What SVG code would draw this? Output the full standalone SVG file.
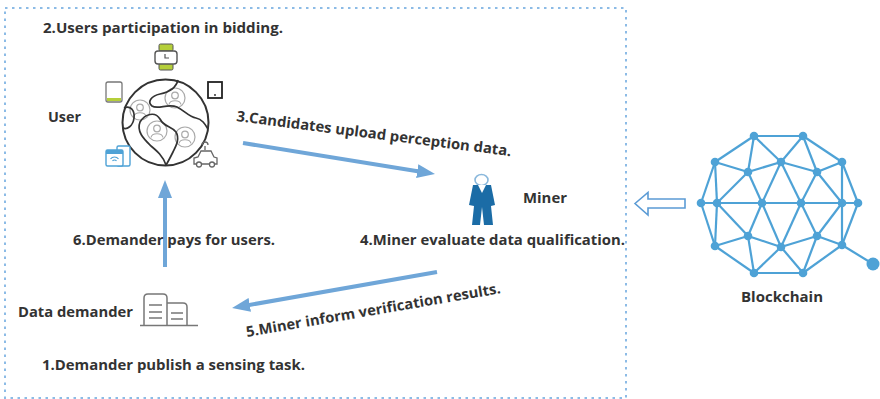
<svg xmlns="http://www.w3.org/2000/svg" width="880" height="399" viewBox="0 0 880 399">
  <style>
    .lbl { font-family: "Open Sans", "Liberation Sans", sans-serif; font-weight: 700; font-size: 14.5px; fill: #333; }
    .flow { stroke: #6fa6d8; stroke-width: 4; fill: none; }
    .net line { stroke: #4ea2d6; stroke-width: 2.2; }
    .net circle { fill: #4ea2d6; }
  </style>
  <defs>
    <marker id="head" viewBox="0 0 18 14" refX="2" refY="7" markerWidth="18" markerHeight="14" markerUnits="userSpaceOnUse" orient="auto">
      <path d="M0,0 L18,7 L0,14 Z" fill="#6fa6d8"/>
    </marker>
    <g id="person" fill="none" stroke="#aaa" stroke-width="1.2">
      <circle r="10"/>
      <circle cx="0" cy="-2.5" r="3.3"/>
      <path d="M-6,6.5 C-5,1.5 5,1.5 6,6.5"/>
    </g>
  </defs>

  <rect width="880" height="399" fill="#fff"/>

  <!-- platform boundary -->
  <rect x="5" y="8" width="621" height="390" fill="none" stroke="#8cbbe6" stroke-width="2" stroke-dasharray="2.5 4.5"/>

  <!-- user: globe with devices -->
  <g id="user">
    <circle cx="165.5" cy="122.5" r="43" fill="#fff" stroke="#333" stroke-width="2"/>
    <use href="#person" x="175" y="98"/>
    <use href="#person" x="140" y="110"/>
    <use href="#person" x="157" y="131"/>
    <use href="#person" x="185" y="137"/>
    <g fill="none" stroke="#333" stroke-width="1.7" stroke-linejoin="round">
      <path d="M178,80 C176,88 170,92 160,94 C151,96 147,102 152,106 C158,110 168,103 177,107 C185,111 189,117 196,118 C202,119 205,124 208,129"/>
      <path d="M140,122 C145,114 155,111 160,119 C164,127 171,126 176,132 C180,139 176,146 173,152 C170,158 168,162 166,165 C163,156 157,151 151,146 C145,140 136,132 140,122 Z"/>
      <path d="M124,108 C130,105 135,110 134,118 C133,126 127,130 123,128"/>
    </g>
    <!-- watch -->
    <rect x="159" y="44" width="14" height="7" rx="1.5" fill="#b5cf3a" stroke="#555" stroke-width="1"/>
    <rect x="159" y="63" width="14" height="7" rx="1.5" fill="#b5cf3a" stroke="#555" stroke-width="1"/>
    <rect x="155" y="51" width="22" height="13" rx="3" fill="#fff" stroke="#555" stroke-width="1.4"/>
    <path d="M165,54 L165,58 L169,58" fill="none" stroke="#555" stroke-width="1.2"/>
    <!-- tablet -->
    <rect x="106" y="82" width="16" height="20" rx="2" fill="#fff" stroke="#777" stroke-width="1.3"/>
    <rect x="107" y="98" width="14" height="3" fill="#b5cf3a"/>
    <!-- phone -->
    <rect x="208" y="82" width="14" height="16" fill="#fff" stroke="#222" stroke-width="1.8"/>
    <circle cx="215" cy="95" r="0.9" fill="#222"/>
    <!-- router -->
    <rect x="117" y="146" width="13" height="20" rx="1.5" fill="#fff" stroke="#4ea2d6" stroke-width="1.4"/>
    <rect x="106" y="150" width="17" height="16" rx="1.5" fill="#fff" stroke="#4ea2d6" stroke-width="1.4"/>
    <rect x="106" y="150" width="17" height="4" fill="#4ea2d6"/>
    <path d="M110.5,159 A5,5 0 0 1 118.5,159 M112.5,161 A2.5,2.5 0 0 1 116.5,161" fill="none" stroke="#4ea2d6" stroke-width="1.2"/>
    <!-- car -->
    <g fill="none" stroke="#666" stroke-width="1.3">
      <path d="M205,146 L205,150 M202,145 A3,3 0 0 1 208,145"/>
      <path d="M198,157 L201,151 L211,151 L214,157 L217,158 L217,164 L194,164 L194,158 Z"/>
      <circle cx="199" cy="164.5" r="2.5" fill="#fff"/>
      <circle cx="212" cy="164.5" r="2.5" fill="#fff"/>
    </g>
  </g>

  <!-- miner -->
  <g id="miner">
    <ellipse cx="481.5" cy="180" rx="6.5" ry="5.5" fill="#fff" stroke="#8ab8dc" stroke-width="1.6"/>
    <path d="M473,185 L491,185 L495,205 L491,206 L493,225 L484,225 L482,207 L480,225 L472,225 L474,206 L469,205 Z" fill="#1b6ca6"/>
    <path d="M478,185 L482,193 L486,185 Z" fill="#fff"/>
  </g>

  <!-- data demander -->
  <g id="demander" fill="none" stroke="#777" stroke-width="1.5">
    <path d="M144,325 L144,298 Q144,294 148,294 L163,294 Q167,294 167,298 L167,325"/>
    <path d="M167,303 L183,303 Q187,303 187,307 L187,325"/>
    <path d="M140,325.5 L198,325.5"/>
    <path d="M149,305 L162,305 M149,312 L162,312 M149,318 L162,318"/>
    <path d="M171,313 L183,313 M171,319 L183,319"/>
  </g>

  <!-- blockchain -->
  <g id="blockchain" class="net">
    <line x1="754" y1="136" x2="803" y2="136"/>
    <line x1="754" y1="136" x2="715" y2="162"/>
    <line x1="754" y1="136" x2="781" y2="162"/>
    <line x1="754" y1="136" x2="748" y2="172"/>
    <line x1="803" y1="136" x2="781" y2="162"/>
    <line x1="803" y1="136" x2="842" y2="162"/>
    <line x1="803" y1="136" x2="817" y2="172"/>
    <line x1="715" y1="162" x2="748" y2="172"/>
    <line x1="715" y1="162" x2="701" y2="203"/>
    <line x1="715" y1="162" x2="717" y2="203"/>
    <line x1="781" y1="162" x2="748" y2="172"/>
    <line x1="781" y1="162" x2="817" y2="172"/>
    <line x1="781" y1="162" x2="762" y2="203"/>
    <line x1="781" y1="162" x2="801" y2="203"/>
    <line x1="842" y1="162" x2="817" y2="172"/>
    <line x1="842" y1="162" x2="858" y2="203"/>
    <line x1="842" y1="162" x2="842" y2="203"/>
    <line x1="748" y1="172" x2="717" y2="203"/>
    <line x1="748" y1="172" x2="762" y2="203"/>
    <line x1="817" y1="172" x2="801" y2="203"/>
    <line x1="817" y1="172" x2="842" y2="203"/>
    <line x1="701" y1="203" x2="858" y2="203"/>
    <line x1="701" y1="203" x2="715" y2="246"/>
    <line x1="717" y1="203" x2="715" y2="246"/>
    <line x1="717" y1="203" x2="748" y2="236"/>
    <line x1="762" y1="203" x2="748" y2="236"/>
    <line x1="762" y1="203" x2="781" y2="247"/>
    <line x1="801" y1="203" x2="781" y2="247"/>
    <line x1="801" y1="203" x2="817" y2="236"/>
    <line x1="842" y1="203" x2="817" y2="236"/>
    <line x1="842" y1="203" x2="842" y2="245"/>
    <line x1="858" y1="203" x2="842" y2="245"/>
    <line x1="715" y1="246" x2="748" y2="236"/>
    <line x1="715" y1="246" x2="754" y2="273"/>
    <line x1="748" y1="236" x2="754" y2="273"/>
    <line x1="748" y1="236" x2="781" y2="247"/>
    <line x1="781" y1="247" x2="754" y2="273"/>
    <line x1="781" y1="247" x2="803" y2="273"/>
    <line x1="781" y1="247" x2="817" y2="236"/>
    <line x1="817" y1="236" x2="803" y2="273"/>
    <line x1="817" y1="236" x2="842" y2="245"/>
    <line x1="842" y1="245" x2="803" y2="273"/>
    <line x1="754" y1="273" x2="803" y2="273"/>
    <line x1="842" y1="245" x2="873" y2="264"/>
    <circle cx="754" cy="136" r="4.3"/>
    <circle cx="803" cy="136" r="4.3"/>
    <circle cx="715" cy="162" r="4.3"/>
    <circle cx="781" cy="162" r="4.3"/>
    <circle cx="842" cy="162" r="4.3"/>
    <circle cx="748" cy="172" r="4.3"/>
    <circle cx="817" cy="172" r="4.3"/>
    <circle cx="701" cy="203" r="4.3"/>
    <circle cx="717" cy="203" r="4.3"/>
    <circle cx="762" cy="203" r="4.3"/>
    <circle cx="801" cy="203" r="4.3"/>
    <circle cx="842" cy="203" r="4.3"/>
    <circle cx="858" cy="203" r="4.3"/>
    <circle cx="748" cy="236" r="4.3"/>
    <circle cx="817" cy="236" r="4.3"/>
    <circle cx="715" cy="246" r="4.3"/>
    <circle cx="781" cy="247" r="4.3"/>
    <circle cx="842" cy="245" r="4.3"/>
    <circle cx="754" cy="273" r="4.3"/>
    <circle cx="803" cy="273" r="4.3"/>
    <circle cx="873" cy="264" r="6.5"/>
  </g>

  <!-- connectors -->
  <g id="connectors">
    <line class="flow" x1="165" y1="267" x2="165" y2="196" marker-end="url(#head)"/>
    <line class="flow" x1="243" y1="143" x2="419.2" y2="171.5" marker-end="url(#head)"/>
    <line class="flow" x1="437" y1="272" x2="247.8" y2="305.2" marker-end="url(#head)"/>
    <path d="M635,203.5 L648,192.5 L648,199 L685,199 L685,208 L648,208 L648,215 Z" fill="#fff" stroke="#5b9bd5" stroke-width="1.6" stroke-linejoin="miter"/>
  </g>

  <!-- labels -->
  <g id="labels">
    <text class="lbl" x="43" y="33" textLength="240" lengthAdjust="spacingAndGlyphs">2.Users participation in bidding.</text>
    <text class="lbl" x="48" y="122" textLength="33" lengthAdjust="spacingAndGlyphs">User</text>
    <text class="lbl" transform="translate(236,121) rotate(7.3)" textLength="277" lengthAdjust="spacingAndGlyphs">3.Candidates upload perception data.</text>
    <text class="lbl" x="523" y="203" textLength="44" lengthAdjust="spacingAndGlyphs">Miner</text>
    <text class="lbl" x="360" y="245" textLength="265" lengthAdjust="spacingAndGlyphs">4.Miner evaluate data qualification.</text>
    <text class="lbl" x="73" y="245" textLength="202" lengthAdjust="spacingAndGlyphs">6.Demander pays for users.</text>
    <text class="lbl" transform="translate(247,337) rotate(-9.8)" textLength="258" lengthAdjust="spacingAndGlyphs">5.Miner inform verification results.</text>
    <text class="lbl" x="18" y="317" textLength="115" lengthAdjust="spacingAndGlyphs">Data demander</text>
    <text class="lbl" x="42" y="370" textLength="263" lengthAdjust="spacingAndGlyphs">1.Demander publish a sensing task.</text>
    <text class="lbl" x="741" y="302" textLength="82" lengthAdjust="spacingAndGlyphs">Blockchain</text>
  </g>
</svg>
